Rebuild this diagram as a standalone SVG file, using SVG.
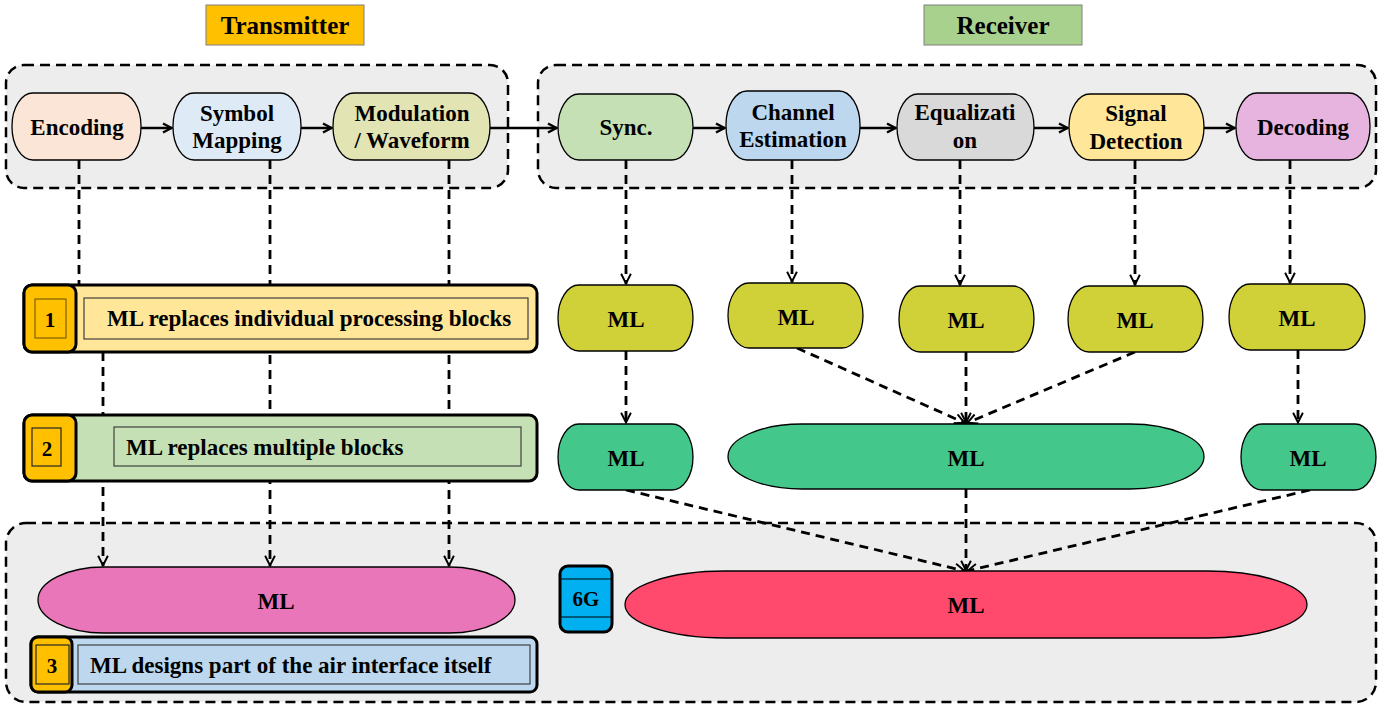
<svg xmlns="http://www.w3.org/2000/svg" width="1396" height="711" viewBox="0 0 1396 711">
<defs>
<style>
text{font-family:"Liberation Serif","Times New Roman",serif;font-weight:bold;fill:#000;}
.t{font-size:23px;text-anchor:middle;}
.bt{font-size:23px;}
.ttl{font-size:25px;text-anchor:middle;}
.cont{fill:#EDEDED;stroke:#000;stroke-width:2.5;stroke-dasharray:10 6;}
.nd{stroke:#000;stroke-width:1.3;}
.sol{stroke:#000;stroke-width:2.5;fill:none;}
.dsh{stroke:#000;stroke-width:2.8;fill:none;stroke-dasharray:9 6;}
.bar{stroke:#000;stroke-width:3;}
.badge{fill:#FFC000;stroke:#000;stroke-width:3;}
.inr{fill:none;stroke:#404040;stroke-width:1.2;}
</style>
<marker id="as" viewBox="0 0 12 12" refX="11" refY="6" markerWidth="12" markerHeight="12" markerUnits="userSpaceOnUse" orient="auto">
<path d="M2,1.5 L10.5,6 L2,10.5" fill="none" stroke="#000" stroke-width="2.5" stroke-dasharray="none"/>
</marker>
<marker id="ad" viewBox="0 0 12 12" refX="11" refY="6" markerWidth="13" markerHeight="13" markerUnits="userSpaceOnUse" orient="auto">
<path d="M1.5,1.5 L10.5,6 L1.5,10.5" fill="none" stroke="#000" stroke-width="1.8" stroke-dasharray="none"/>
</marker>
</defs>
<rect width="1396" height="711" fill="#fff"/>

<g id="titles">
<g id="transmitter"><rect x="206" y="5" width="158" height="40" fill="#FFC000" stroke="#7F7F7F" stroke-width="1"/><text class="ttl" x="285" y="34">Transmitter</text></g>
<g id="receiver"><rect x="924" y="5" width="158" height="40" fill="#A9D18E" stroke="#7F7F7F" stroke-width="1"/><text class="ttl" x="1003" y="34">Receiver</text></g>
</g>

<g id="containers">
<rect class="cont" x="6" y="65" width="502" height="123" rx="18"/>
<rect class="cont" x="538" y="65" width="838" height="123" rx="18"/>
<rect class="cont" x="6" y="523" width="1370" height="179" rx="20"/>
</g>

<g id="connectors">
<line class="sol" x1="141" y1="128" x2="172" y2="128" marker-end="url(#as)"/>
<line class="sol" x1="301" y1="128" x2="332" y2="128" marker-end="url(#as)"/>
<line class="sol" x1="490" y1="128" x2="557" y2="128" marker-end="url(#as)"/>
<line class="sol" x1="693" y1="128" x2="725" y2="128" marker-end="url(#as)"/>
<line class="sol" x1="860" y1="128" x2="896" y2="128" marker-end="url(#as)"/>
<line class="sol" x1="1034" y1="128" x2="1068" y2="128" marker-end="url(#as)"/>
<line class="sol" x1="1204" y1="128" x2="1235" y2="128" marker-end="url(#as)"/>

<line class="dsh" x1="79" y1="160" x2="79" y2="286"/>
<line class="dsh" x1="103" y1="352" x2="103" y2="566" marker-end="url(#ad)"/>
<line class="dsh" x1="270" y1="160" x2="270" y2="566" marker-end="url(#ad)"/>
<line class="dsh" x1="449" y1="160" x2="449" y2="566" marker-end="url(#ad)"/>

<line class="dsh" x1="626" y1="160" x2="626" y2="284" marker-end="url(#ad)"/>
<line class="dsh" x1="792" y1="160" x2="792" y2="282" marker-end="url(#ad)"/>
<line class="dsh" x1="960" y1="160" x2="960" y2="285" marker-end="url(#ad)"/>
<line class="dsh" x1="1135" y1="160" x2="1135" y2="285" marker-end="url(#ad)"/>
<line class="dsh" x1="1290" y1="160" x2="1290" y2="283" marker-end="url(#ad)"/>

<line class="dsh" x1="626" y1="351" x2="626" y2="423" marker-end="url(#ad)"/>
<line class="dsh" x1="797" y1="348" x2="965" y2="423" marker-end="url(#ad)"/>
<line class="dsh" x1="966" y1="352" x2="966" y2="423" marker-end="url(#ad)"/>
<line class="dsh" x1="1135" y1="352" x2="967" y2="423" marker-end="url(#ad)"/>
<line class="dsh" x1="1298" y1="350" x2="1298" y2="423" marker-end="url(#ad)"/>

<line class="dsh" x1="626" y1="490" x2="965" y2="571" marker-end="url(#ad)"/>
<line class="dsh" x1="966" y1="489" x2="966" y2="571" marker-end="url(#ad)"/>
<line class="dsh" x1="1310" y1="490" x2="967" y2="571" marker-end="url(#ad)"/>
</g>

<g id="n-encoding"><rect class="nd" x="12" y="93" width="129" height="67" rx="21" ry="33" fill="#FBE5D6"/><text class="t" x="77" y="135">Encoding</text></g>
<g id="n-symbol"><rect class="nd" x="173" y="93" width="128" height="67" rx="21" ry="33" fill="#DEEBF7"/><text class="t" x="237" y="121">Symbol</text><text class="t" x="237" y="148">Mapping</text></g>
<g id="n-modulation"><rect class="nd" x="333" y="93" width="157" height="67" rx="21" ry="33" fill="#E2E4B4"/><text class="t" x="412" y="121">Modulation</text><text class="t" x="412" y="148">/ Waveform</text></g>

<g id="n-sync"><rect class="nd" x="558" y="94" width="135" height="66" rx="21" ry="33" fill="#C5E0B4"/><text class="t" x="626" y="135">Sync.</text></g>
<g id="n-channel"><rect class="nd" x="726" y="91" width="134" height="69" rx="21" ry="34" fill="#BDD7EE"/><text class="t" x="793" y="120">Channel</text><text class="t" x="793" y="147">Estimation</text></g>
<g id="n-equalization"><rect class="nd" x="897" y="94" width="137" height="66" rx="21" ry="33" fill="#D9D9D9"/><text class="t" x="965" y="120">Equalizati</text><text class="t" x="965" y="148">on</text></g>
<g id="n-detection"><rect class="nd" x="1069" y="94" width="135" height="66" rx="21" ry="33" fill="#FFE699"/><text class="t" x="1136" y="121">Signal</text><text class="t" x="1136" y="149">Detection</text></g>
<g id="n-decoding"><rect class="nd" x="1236" y="93" width="134" height="67" rx="21" ry="33" fill="#E6B4DE"/><text class="t" x="1303" y="135">Decoding</text></g>

<g id="bar1"><rect class="bar" x="24" y="285" width="513" height="67" rx="8" fill="#FFE699"/><rect class="badge" x="24" y="285" width="52" height="67" rx="8"/><rect x="35" y="299" width="31" height="39" fill="none" stroke="#7F6000" stroke-width="1.2"/><text x="50" y="327" font-size="21" text-anchor="middle">1</text><rect class="inr" x="84" y="298" width="444" height="41"/><text class="bt" x="107" y="326">ML replaces individual processing blocks</text></g>
<g id="bar2"><rect class="bar" x="24" y="415" width="513" height="66" rx="8" fill="#C5E0B4"/><rect class="badge" x="24" y="415" width="52" height="66" rx="8"/><rect x="32" y="428" width="29" height="38" fill="none" stroke="#262626" stroke-width="1.2"/><text x="47" y="456" font-size="21" text-anchor="middle">2</text><rect class="inr" x="114" y="427" width="407" height="39"/><text class="bt" x="126" y="455">ML replaces multiple blocks</text></g>

<g id="ml-sync1"><rect class="nd" x="558" y="285" width="135" height="66" rx="21" ry="33" fill="#D0D038"/><text class="t" x="626" y="327">ML</text></g>
<g id="ml-chan1"><rect class="nd" x="728" y="283" width="135" height="65" rx="21" ry="32.5" fill="#D0D038"/><text class="t" x="796" y="325">ML</text></g>
<g id="ml-eq1"><rect class="nd" x="899" y="286" width="135" height="66" rx="21" ry="33" fill="#D0D038"/><text class="t" x="966" y="328">ML</text></g>
<g id="ml-det1"><rect class="nd" x="1068" y="286" width="135" height="66" rx="21" ry="33" fill="#D0D038"/><text class="t" x="1135" y="328">ML</text></g>
<g id="ml-dec1"><rect class="nd" x="1229" y="284" width="136" height="66" rx="21" ry="33" fill="#D0D038"/><text class="t" x="1297" y="326">ML</text></g>

<g id="ml-sync2"><rect class="nd" x="558" y="424" width="135" height="66" rx="21" ry="33" fill="#43C78A"/><text class="t" x="626" y="466">ML</text></g>
<g id="ml-mid2"><rect class="nd" x="728" y="424" width="476" height="65" rx="74" ry="32.5" fill="#43C78A"/><text class="t" x="966" y="466">ML</text></g>
<g id="ml-dec2"><rect class="nd" x="1241" y="424" width="135" height="66" rx="21" ry="33" fill="#43C78A"/><text class="t" x="1308" y="466">ML</text></g>

<g id="ml-tx3"><rect class="nd" x="38" y="567" width="477" height="66" rx="66" ry="33" fill="#E976B8"/><text class="t" x="276" y="609">ML</text></g>
<g id="g6"><rect x="560" y="566" width="52" height="66" rx="8" fill="#00B0F0" stroke="#000" stroke-width="3"/><line x1="561" y1="579" x2="611" y2="579" stroke="#000" stroke-width="1.2"/><line x1="561" y1="617" x2="611" y2="617" stroke="#000" stroke-width="1.2"/><text x="586" y="606" font-size="21" text-anchor="middle">6G</text></g>
<g id="ml-rx3"><rect class="nd" x="625" y="571" width="682" height="67" rx="100" ry="33.5" fill="#FF4A6E"/><text class="t" x="966" y="613">ML</text></g>

<g id="bar3"><rect class="bar" x="31" y="637" width="506" height="55" rx="7" fill="#BDD7EE"/><rect class="badge" x="31" y="637" width="41" height="55" rx="7"/><rect x="36" y="645" width="33" height="39" fill="none" stroke="#262626" stroke-width="1.2"/><text x="52" y="673" font-size="21" text-anchor="middle">3</text><rect class="inr" x="78" y="645" width="452" height="39"/><text class="bt" x="90" y="673">ML designs part of the air interface itself</text></g>
</svg>
